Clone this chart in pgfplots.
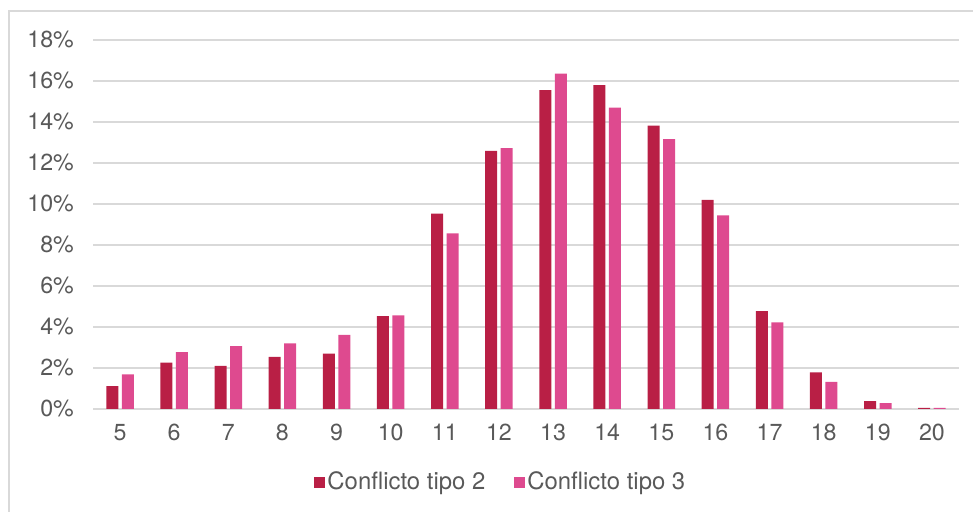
\documentclass[border=0pt]{standalone}
\usepackage{pgfplots}
\pgfplotsset{compat=1.18}
\usepackage{fontspec}
\setmainfont{TeX Gyre Heros}
\definecolor{cA}{HTML}{B91F45}
\definecolor{cB}{HTML}{DE4A8F}
\definecolor{txt}{HTML}{595959}
\definecolor{gridc}{HTML}{D9D9D9}
\begin{document}
\fontsize{23}{27}\selectfont
\begin{tikzpicture}
\useasboundingbox (0bp,0bp) rectangle (973bp,512bp);
\draw[gridc, line width=1.5bp] (9bp,-20bp) rectangle (995bp,501bp);
\begin{axis}[
  at={(93bp,103bp)}, anchor=south west,
  scale only axis, width=866bp, height=369bp,
  xmin=4.5, xmax=20.5, ymin=0, ymax=18,
  xtick={5,...,20}, ytick={0,2,...,18},
  yticklabel={\pgfmathprintnumber{\tick}\%},
  /pgf/number format/assume math mode=true,
  ymajorgrids, grid style={gridc, line width=1.4bp},
  axis line style={draw=none},
  major tick length=0pt,
  ticklabel style={font=\fontsize{23.3}{27}\selectfont, text=txt, inner sep=0pt},
  yticklabel style={anchor=east, xshift=-19bp},
  xticklabel style={anchor=north, yshift=-15bp},
  ybar=3.5bp, bar width=12bp,
  legend columns=2,
  legend style={at={(axis description cs:0.471,-0.198)}, anchor=center,
    draw=none, fill=none, font=\fontsize{24}{28}\selectfont, text=txt,
    /tikz/every even column/.append style={column sep=26bp},
    nodes={inner xsep=2.5bp, inner ysep=0pt}},
  legend image code/.code={\fill[#1] (0bp,-5.5bp) rectangle (11bp,5.5bp);},
]
\addplot[fill=cA, draw=none] coordinates {
(5,1.12) (6,2.26) (7,2.10) (8,2.54) (9,2.70) (10,4.53) (11,9.53) (12,12.59)
(13,15.55) (14,15.80) (15,13.82) (16,10.20) (17,4.78) (18,1.79) (19,0.39) (20,0.05)};
\addplot[fill=cB, draw=none] coordinates {
(5,1.69) (6,2.78) (7,3.07) (8,3.20) (9,3.61) (10,4.57) (11,8.57) (12,12.72)
(13,16.36) (14,14.70) (15,13.17) (16,9.45) (17,4.23) (18,1.32) (19,0.29) (20,0.05)};
\legend{Conflicto tipo 2, Conflicto tipo 3}
\end{axis}
\end{tikzpicture}
\end{document}
